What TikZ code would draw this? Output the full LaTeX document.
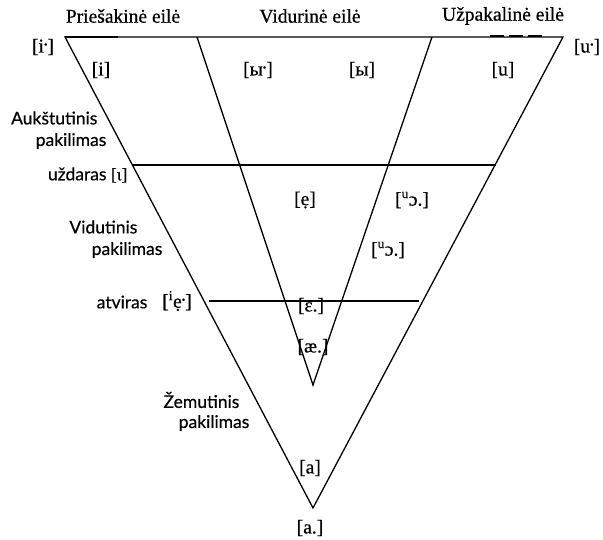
\documentclass[tikz,border=0pt]{standalone}
\usepackage{fontspec}
\setmainfont{Liberation Serif}[UprightFeatures={FakeBold=0.6}]
\newfontfamily\lvlfont{Lato}[UprightFeatures={FakeBold=0.5}]
\usepackage{tikz}
\usetikzlibrary{positioning}
\newcommand{\hlen}{\kern-1.5pt\raisebox{1.5pt}{·}\kern-1.5pt}

\begin{document}
\begin{tikzpicture}[x=1pt,y=-1pt,line width=1.3pt,
 snd/.style={inner sep=0pt,font=\fontsize{19.5}{22}\selectfont},
 row/.style={inner sep=0pt,font=\fontsize{19.5}{22}\selectfont},
 lvl/.style={inner sep=0pt,anchor=east,font=\lvlfont\fontsize{17.5}{20}\selectfont}]
\useasboundingbox (0,0) rectangle (603,539);
\coordinate (tl) at (65,37);
\coordinate (tr) at (563,37);
\coordinate (bot) at (313,508);
\coordinate (itl) at (197,37);
\coordinate (itr) at (432,37);
\coordinate (ibot) at (313,385);
\coordinate (ul) at (132,165);
\coordinate (ur) at (496,165);
\coordinate (ol) at (209,301);
\coordinate (or) at (419,301);
\coordinate (tk) at (118,37);
\coordinate (ds1) at (490,36);
\coordinate (ds2) at (545,36);
\draw (tl)--(tr)--(bot)--cycle;
\draw (itl)--(ibot)--(itr);
\draw (ul)--(ur) (ol)--(or);
\draw[line width=2pt] (tl)--(tk);
\draw[line width=1.6pt,dash pattern=on 14pt off 5pt] (ds1)--(ds2);
\node[row] (front) at (123,16) {Priešakinė eilė};
\node[row] (central) at (310,16) {Vidurinė eilė};
\node[row] (back) at (503,16) {Užpakalinė eilė};
\node[snd] (il) at (43,47) {[i\hlen]};
\node[snd] (ul1) at (587,47) {[u\hlen]};
\node[snd] (i) at (101,70) {[i]};
\node[snd] (yl) at (258,70) {[ы\hlen]};
\node[snd] (y) at (362,70) {[ы]};
\node[snd] (u) at (503,70) {[u]};
\node[lvl] (high1) at (98,118) {Aukštutinis};
\node[lvl] (high2) at (107,141) {pakilimas};
\node[lvl] (closed) at (128,175) {uždaras {\rmfamily[ɩ]}};
\node[lvl] (mid1) at (138,227) {Vidutinis};
\node[lvl] (mid2) at (163,250) {pakilimas};
\node[lvl] (open) at (148,302) {atviras};
\node[snd] (ie) at (177,301) {[\textsuperscript{i}ẹ\hlen]};
\node[snd] (e) at (305,200) {[ẹ]};
\node[snd] (uo1) at (412,200) {[\textsuperscript{u}ɔ.]};
\node[snd] (uo2) at (388,250) {[\textsuperscript{u}ɔ.]};
\node[snd] (eps) at (311,306) {[ɛ.]};
\node[snd] (ae) at (313,347) {[æ.]};
\node[lvl] (low1) at (240,400) {Žemutinis};
\node[lvl] (low2) at (250,423) {pakilimas};
\node[snd] (a) at (310,468) {[a]};
\node[snd] (al) at (310,528) {[a.]};
\end{tikzpicture}
\end{document}
